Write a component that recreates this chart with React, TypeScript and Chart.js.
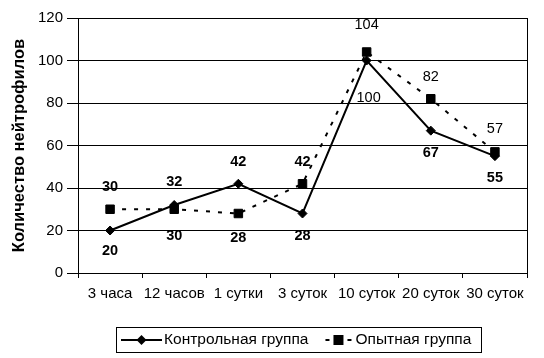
import React, { useEffect, useRef } from 'react';
import { Chart, registerables } from 'chart.js';

Chart.register(...registerables);

const categories = ['3 часа', '12 часов', '1 сутки', '3 суток', '10 суток', '20 суток', '30 суток'];
const controlValues = [20, 32, 42, 28, 100, 67, 55];
const experimentValues = [30, 30, 28, 42, 104, 82, 57];
const seriesNames = ['Контрольная группа', 'Опытная группа'];
const yTitle = 'Количество нейтрофилов';
const yMin = 0;
const yMax = 120;
const yStep = 20;

const FONT = '"Liberation Sans", Arial, Helvetica, sans-serif';

const pointLabelsPlugin = {
  id: 'pointLabels',
  afterDatasetsDraw(chart: any) {
    const ctx = chart.ctx;
    chart.data.datasets.forEach((ds: any, i: number) => {
      const meta = chart.getDatasetMeta(i);
      meta.data.forEach((pt: any, j: number) => {
        ctx.save();
        ctx.font = `${ds.labelBold && ds.labelBold[j] ? 'bold ' : ''}14.5px ${FONT}`;
        ctx.fillStyle = '#000';
        ctx.textAlign = 'center';
        ctx.textBaseline = 'middle';
        const dx = ds.labelDx ? ds.labelDx[j] : 0;
        ctx.fillText(String(ds.data[j]), pt.x + dx, pt.y + ds.labelDy[j]);
        ctx.restore();
      });
    });
  },
};

const framePlugin = {
  id: 'frameAndLegend',
  afterDraw(chart: any) {
    const ctx = chart.ctx;
    const ca = chart.chartArea;
    ctx.save();
    ctx.strokeStyle = '#000';
    ctx.lineWidth = 1;
    ctx.beginPath();
    const rx = Math.round(ca.right) + 0.5;
    ctx.moveTo(rx, Math.round(ca.top));
    ctx.lineTo(rx, Math.round(ca.bottom) + 1);
    ctx.stroke();

    // legend
    ctx.font = `15.5px ${FONT}`;
    const w1 = ctx.measureText(seriesNames[0]).width;
    const w2 = ctx.measureText(seriesNames[1]).width;
    const padL = 5, line1 = 41, gap1 = 2, between = 17, line2 = 26, gap2 = 4, padR = 10;
    const total = padL + line1 + gap1 + w1 + between + line2 + gap2 + w2 + padR;
    const center = (ca.left + ca.right) / 2 - 4;
    const left = Math.round(center - total / 2);
    const top = Math.round(ca.bottom) + 54;
    const h = 25;
    const cy = top + h / 2 + 0.5;
    ctx.strokeRect(left + 0.5, top + 0.5, Math.round(total), h);

    let x = left + padL;
    ctx.lineWidth = 2;
    ctx.setLineDash([]);
    ctx.beginPath();
    ctx.moveTo(x, cy);
    ctx.lineTo(x + line1, cy);
    ctx.stroke();
    const dxm = x + line1 / 2;
    ctx.fillStyle = '#000';
    ctx.beginPath();
    ctx.moveTo(dxm, cy - 5);
    ctx.lineTo(dxm + 5, cy);
    ctx.lineTo(dxm, cy + 5);
    ctx.lineTo(dxm - 5, cy);
    ctx.closePath();
    ctx.fill();
    x += line1 + gap1;
    ctx.textAlign = 'left';
    ctx.textBaseline = 'middle';
    ctx.fillText(seriesNames[0], x, cy);
    x += w1 + between;

    ctx.lineWidth = 2;
    ctx.setLineDash([4, 18]);
    ctx.beginPath();
    ctx.moveTo(x, cy);
    ctx.lineTo(x + line2, cy);
    ctx.stroke();
    ctx.setLineDash([]);
    const sq = x + line2 / 2;
    ctx.fillRect(sq - 5, cy - 5, 10, 10);
    x += line2 + gap2;
    ctx.fillText(seriesNames[1], x, cy);
    ctx.restore();
  },
};

export default function App() {
  const canvasRef = useRef<HTMLCanvasElement | null>(null);

  useEffect(() => {
    if (!canvasRef.current) return;
    const chart = new Chart(canvasRef.current, {
      type: 'line',
      data: {
        labels: categories,
        datasets: [
          {
            label: seriesNames[0],
            data: controlValues,
            borderColor: '#000',
            backgroundColor: '#000',
            borderWidth: 2,
            pointStyle: 'rectRot',
            pointRadius: 4.5,
            pointBorderWidth: 1,
            pointBackgroundColor: '#000',
            pointBorderColor: '#000',
            tension: 0,
            fill: false,
            labelDy: [20, -23, -22, 22, 37, 22, 22],
            labelDx: [0, 0, 0, 0, 2, 0, 0],
            labelBold: [true, true, true, true, false, true, true],
          } as any,
          {
            label: seriesNames[1],
            data: experimentValues,
            borderColor: '#000',
            backgroundColor: '#000',
            borderWidth: 2,
            borderDash: [4, 8],
            pointStyle: 'rect',
            pointRadius: 6,
            pointBorderWidth: 1,
            pointBackgroundColor: '#000',
            pointBorderColor: '#000',
            tension: 0,
            fill: false,
            labelDy: [-22, 27, 24, -22, -27, -22, -23],
            labelDx: [0, 0, 0, 0, 0, 0, 0],
            labelBold: [true, true, true, true, false, false, false],
          } as any,
        ],
      },
      options: {
        responsive: false,
        animation: false,
        devicePixelRatio: 1,
        layout: { padding: { left: 0, right: 17, top: 18, bottom: 50 } },
        plugins: {
          legend: { display: false },
          tooltip: { enabled: false },
        },
        scales: {
          x: {
            type: 'category',
            offset: true,
            afterFit: (scale: any) => {
              scale.height = 35;
            },
            grid: {
              offset: true,
              drawOnChartArea: false,
              drawTicks: true,
              tickLength: 5,
              color: '#000',
              lineWidth: 1,
            },
            border: { display: true, color: '#000', width: 1 },
            ticks: {
              color: '#000',
              font: { family: FONT, size: 15 },
              padding: 7,
              maxRotation: 0,
              autoSkip: false,
            },
          },
          y: {
            min: yMin,
            max: yMax,
            afterFit: (scale: any) => {
              scale.width = 78;
            },
            grid: {
              color: '#000',
              lineWidth: 1,
              drawTicks: true,
              tickLength: 11,
            },
            border: { display: true, color: '#000', width: 1 },
            ticks: {
              stepSize: yStep,
              color: '#000',
              font: { family: FONT, size: 15 },
              padding: 4,
            },
            title: {
              display: true,
              text: yTitle,
              color: '#000',
              font: { family: FONT, size: 16.5, weight: 'bold' },
              padding: { top: 10, bottom: 0 },
            },
          },
        },
      },
      plugins: [pointLabelsPlugin, framePlugin],
    });
    return () => chart.destroy();
  }, []);

  return (
    <div style={{ position: 'absolute', left: 0, top: 0, width: 544, height: 358, background: '#fff' }}>
      <canvas ref={canvasRef} width={544} height={358} style={{ display: 'block' }} />
    </div>
  );
}
